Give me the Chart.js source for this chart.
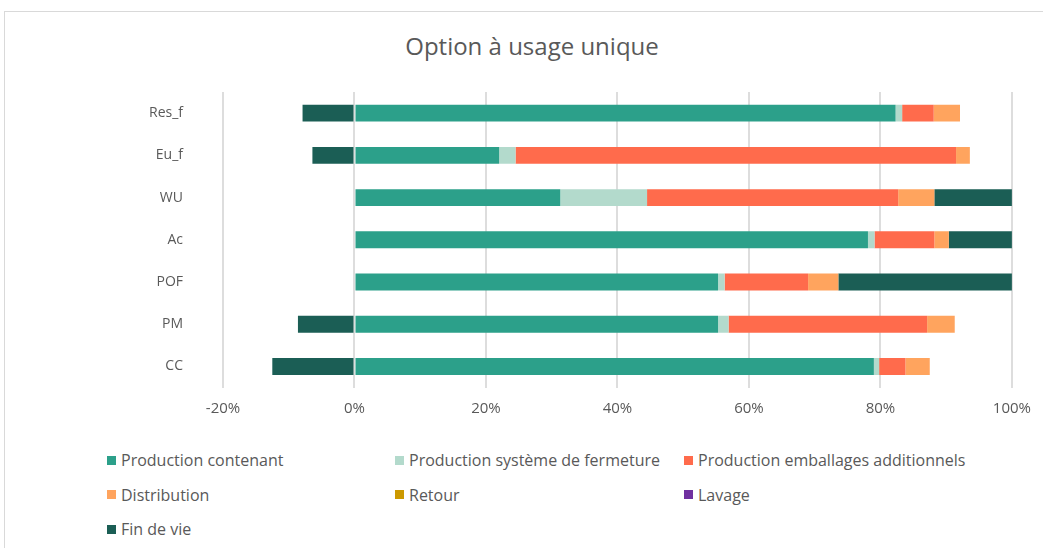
<!DOCTYPE html>
<html>
<head>
<meta charset="utf-8">
<script src="https://cdn.jsdelivr.net/npm/chart.js@4"></script>
<style>
    body { margin: 0; background: #ffffff; font-family: "Open Sans", sans-serif; }
    .frame { position: absolute; left: 4px; top: 11px; width: 1100px; height: 600px; border: 1px solid #d9d9d9; }
    .title { position: absolute; left: 0; width: 1064px; top: 30px; text-align: center; font-size: 24px; color: #595959; line-height: 32px; }
    .chartBox { position: absolute; left: 0; top: 0; width: 1043px; height: 436px; }
    .legend { position: absolute; left: 0; top: 443px; width: 1043px; }
    .legend .item { position: absolute; display: flex; align-items: center; font-size: 16px; color: #595959; height: 34px; }
    .legend .box { width: 9px; height: 9px; margin-right: 5px; }
</style>
</head>
<body>
<div class="frame"></div>
<div class="title">Option à usage unique</div>
<div class="chartBox"><canvas id="chart"></canvas></div>
<div class="legend" id="legend"></div>

<script>
// Categories, top to bottom
const categories = ["Res_f", "Eu_f", "WU", "Ac", "POF", "PM", "CC"]

// Share of each life cycle stage (%)
const productionContenant = [82.3, 22.0, 31.3, 78.1, 55.3, 55.3, 79.0]
const productionFermeture = [1.0, 2.5, 13.2, 1.0, 1.0, 1.6, 0.8]
const productionEmballages = [4.8, 67.0, 38.2, 9.1, 12.7, 30.2, 4.0]
const distribution = [4.0, 2.1, 5.5, 2.2, 4.6, 4.2, 3.7]
const retour = [0, 0, 0, 0, 0, 0, 0]
const lavage = [0, 0, 0, 0, 0, 0, 0]
const finDeVie = [-7.9, -6.4, 11.8, 9.6, 26.4, -8.6, -12.5]

const xTicks = [-20, 0, 20, 40, 60, 80, 100]

const seriesNames = ["Production contenant", "Production système de fermeture", "Production emballages additionnels",
    "Distribution", "Retour", "Lavage", "Fin de vie"]
const seriesData = [productionContenant, productionFermeture, productionEmballages, distribution, retour, lavage, finDeVie]
const seriesColors = ["#2ca08a", "#b3dacc", "#ff6b4c", "#ffa45e", "#cc9900", "#7030a0", "#1b5e55"]

const textColor = "#595959"

const datasets = seriesNames.map((name, i) => ({
    label: name,
    data: seriesData[i],
    backgroundColor: seriesColors[i],
    borderWidth: 0,
    categoryPercentage: 1,
    barPercentage: 0.4
}))

const ctx = document.getElementById('chart')
const chart = new Chart(ctx, {
    type: 'bar',
    data: { labels: categories, datasets: datasets },
    options: {
        indexAxis: 'y',
        responsive: true,
        maintainAspectRatio: false,
        animation: false,
        layout: { padding: { left: 0, right: 27, top: 92, bottom: 0 } },
        plugins: {
            legend: { display: false },
            tooltip: { enabled: false }
        },
        scales: {
            x: {
                stacked: true,
                min: -20,
                max: 100,
                afterBuildTicks: scale => { scale.ticks = xTicks.map(v => ({ value: v })) },
                ticks: {
                    callback: v => v + "%",
                    color: textColor,
                    font: { family: "Open Sans", size: 15 },
                    padding: 12
                },
                grid: { color: "#dddddd", lineWidth: 2, drawTicks: false },
                border: { display: false }
            },
            y: {
                stacked: true,
                afterFit: scale => { scale.width = 223 },
                ticks: {
                    color: textColor,
                    font: { family: "Open Sans", size: 14 },
                    padding: 40
                },
                grid: { display: false, drawTicks: false },
                border: { display: false }
            }
        }
    }
})

// Legend laid out in three columns under the chart
const legendDiv = document.getElementById('legend')
const columnsX = [107, 395, 684]
chart.data.datasets.forEach((ds, i) => {
    const item = document.createElement('div')
    item.className = 'item'
    item.style.left = columnsX[i % 3] + 'px'
    item.style.top = (Math.floor(i / 3) * 34.5) + 'px'
    item.innerHTML = `<span class="box" style="background:${ds.backgroundColor}"></span><span>${ds.label}</span>`
    legendDiv.appendChild(item)
})
</script>
</body>
</html>
